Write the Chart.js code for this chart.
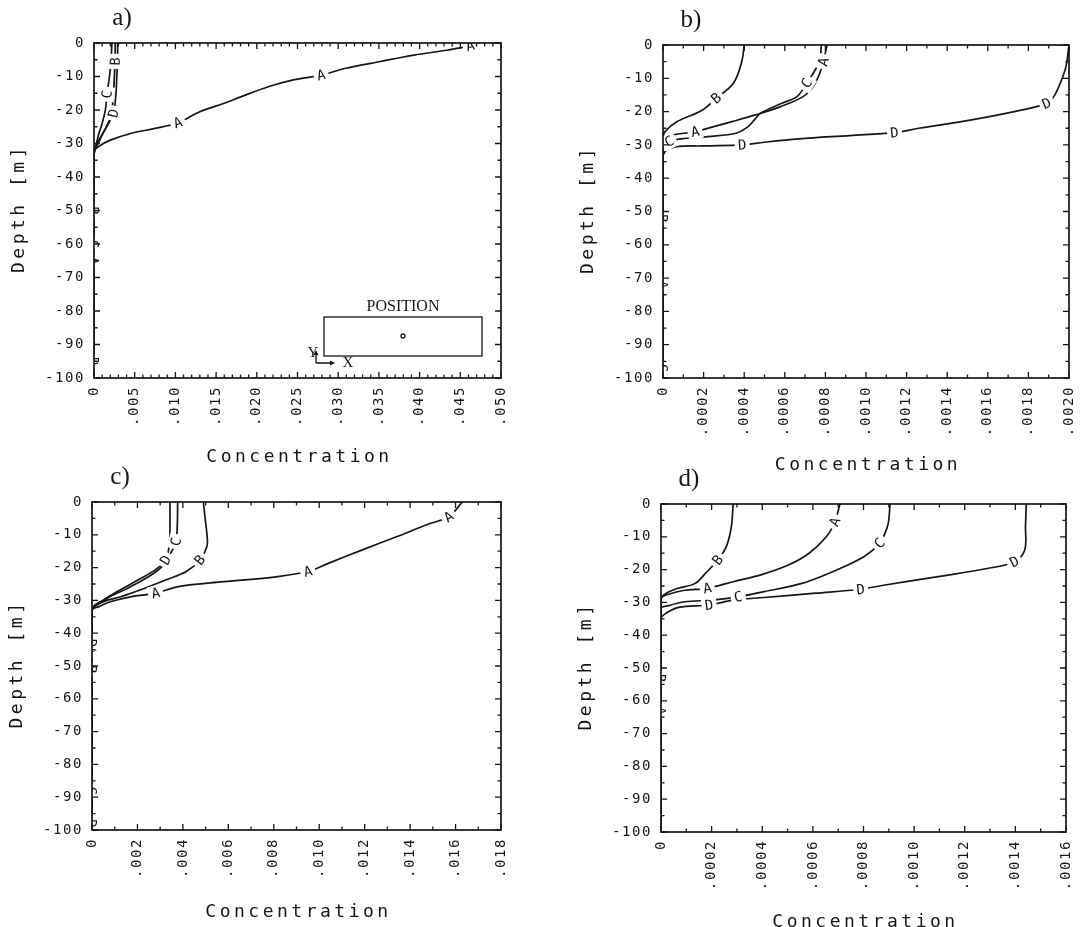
<!DOCTYPE html>
<html>
<head>
<meta charset="utf-8">
<script src="https://cdn.jsdelivr.net/npm/chart.js@4.4.1/dist/chart.umd.min.js"></script>
<style>
  html, body { margin: 0; padding: 0; background: #fff; }
  #sheet { position: relative; width: 1081px; height: 927px; overflow: hidden; }
  #sheet canvas { position: absolute; }
</style>
</head>
<body>
<div id="sheet">
  <canvas id="panelA" width="540" height="478" style="left:0;top:0"></canvas>
  <canvas id="panelB" width="541" height="478" style="left:540px;top:0"></canvas>
  <canvas id="panelC" width="540" height="462" style="left:0;top:465px"></canvas>
  <canvas id="panelD" width="541" height="462" style="left:540px;top:465px"></canvas>
</div>
<script>
// profiles A-D: concentration against depth (m), one set per panel

// panel a)
const aDepthA = [0, -0.8, -2.1, -3.6, -5.6, -7.6, -9.6, -11, -13, -16, -18, -20.5, -23.8, -25.5, -27, -29, -31, -32.5, -65, -100];
const aConcA  = [0.0468, 0.0462, 0.0435, 0.0393, 0.0350, 0.0308, 0.0279, 0.0245, 0.0215, 0.0181, 0.0160, 0.0130, 0.0103, 0.0075, 0.0045, 0.0020, 0.0005, 0, 0, 0];
const aLabA   = [1, 6, 12, 18];
const aDepthB = [0, -5.5, -10, -15, -20, -23, -26, -29, -31, -33, -50, -100];
const aConcB  = [0.0026, 0.0026, 0.0025, 0.0024, 0.0022, 0.0019, 0.0013, 0.0006, 0.0002, 0, 0, 0];
const aLabB   = [1, 10];
const aDepthC = [0, -5, -10, -15.3, -20, -24, -27, -30, -32, -33, -60, -100];
const aConcC  = [0.0022, 0.0021, 0.0019, 0.0016, 0.0014, 0.0010, 0.0006, 0.0003, 0.0001, 0, 0, 0];
const aLabC   = [3, 10];
const aDepthD = [0, -5, -10, -15, -21, -24, -27, -30, -32, -34, -95, -100];
const aConcD  = [0.0029, 0.0029, 0.0028, 0.0027, 0.0024, 0.0018, 0.0011, 0.0005, 0.0001, 0, 0, 0];
const aLabD   = [4, 10];

// panel b)
const bDepthA = [0, -5, -8.5, -12.5, -15.5, -18.5, -21, -23, -24.5, -26, -27, -28, -72, -100];
const bConcA  = [0.000808, 0.00079, 0.000772, 0.00074, 0.00069, 0.00058, 0.000455, 0.00034, 0.00025, 0.000158, 0.00005, 0, 0, 0];
const bLabA   = [1, 9, 12];
const bDepthB = [0, -5, -11.5, -16, -19.5, -23, -26, -28, -52, -100];
const bConcB  = [0.0004, 0.000388, 0.000347, 0.000262, 0.000195, 0.00007, 0.00001, 0, 0, 0];
const bLabB   = [3, 8];
const bDepthC = [0, -5, -11.5, -15.5, -17.5, -20.5, -22.5, -24.5, -26.5, -27.5, -28.2, -29, -31, -97, -100];
const bConcC  = [0.00078, 0.00077, 0.000708, 0.00066, 0.000585, 0.00048, 0.00045, 0.00042, 0.00036, 0.00022, 0.00009, 0.00003, 0, 0, 0];
const bLabC   = [2, 11, 13];
const bDepthD = [0, -6.5, -11, -15.5, -17.5, -19.5, -22.5, -25, -26.3, -27.2, -28.2, -29.2, -30, -30.3, -30.6, -32, -34, -100];
const bConcD  = [0.002, 0.001985, 0.00196, 0.001925, 0.00189, 0.00177, 0.00152, 0.00126, 0.00114, 0.00092, 0.00067, 0.0005, 0.00039, 0.0002, 0.00006, 0.00001, 0, 0];
const bLabD   = [4, 8, 12];

// panel c)
const cDepthA = [0, -4.5, -6.5, -10.6, -14.6, -18.7, -21.2, -22.8, -24.3, -25.8, -27.8, -28.9, -30.4, -31.9, -33, -45, -100];
const cConcA  = [0.0163, 0.0157, 0.0149, 0.0134, 0.0119, 0.0104, 0.0095, 0.0081, 0.0058, 0.0038, 0.0028, 0.0017, 0.0008, 0.0003, 0, 0, 0];
const cLabA   = [1, 6, 10, 15];
const cDepthB = [0, -5, -10, -13.5, -17.7, -21.2, -23.8, -26.3, -28.9, -30.4, -33, -51, -100];
const cConcB  = [0.0049, 0.00498, 0.00506, 0.00506, 0.00475, 0.00415, 0.00324, 0.00232, 0.00126, 0.0005, 0, 0, 0];
const cLabB   = [4, 11];
const cDepthC = [0, -8, -12.1, -15.6, -19.7, -22.8, -26.3, -29.4, -33, -88, -100];
const cConcC  = [0.00377, 0.00375, 0.00369, 0.00346, 0.00308, 0.00248, 0.00157, 0.00066, 0, 0, 0];
const cLabC   = [2, 9];
const cDepthD = [0, -8, -13.2, -17.7, -20.7, -23.8, -27.3, -29.9, -33, -43, -98, -100];
const cConcD  = [0.00343, 0.00343, 0.0034, 0.00324, 0.00278, 0.00202, 0.00111, 0.0005, 0, 0, 0, 0];
const cLabD   = [3, 9, 10];

// panel d)
const dDepthA = [0, -5.4, -10, -15, -18.6, -21.6, -23.7, -25.7, -26.3, -27.3, -29, -63, -100];
const dConcA  = [0.000707, 0.000687, 0.000653, 0.000585, 0.000503, 0.000394, 0.000285, 0.000183, 0.000094, 0.00004, 0, 0, 0];
const dLabA   = [1, 7, 11];
const dDepthB = [0, -6.9, -13, -17.1, -21.1, -24.2, -25.7, -27, -29, -53, -100];
const dConcB  = [0.000285, 0.000278, 0.000258, 0.000224, 0.000176, 0.000135, 0.000067, 0.000026, 0, 0, 0];
const dLabB   = [3, 9];
const dDepthC = [0, -5.8, -8.9, -12, -16, -20.1, -24.2, -26.7, -28.3, -29.3, -29.8, -31, -32, -100];
const dConcC  = [0.000905, 0.000898, 0.000885, 0.000864, 0.000803, 0.000694, 0.000557, 0.000408, 0.000305, 0.000203, 0.000094, 0.00003, 0, 0];
const dLabC   = [3, 8];
const dDepthD = [0, -6.9, -14, -17.6, -19.6, -22.2, -24.7, -26, -27.2, -28.5, -29.3, -30.8, -31.5, -33.3, -35, -100];
const dConcD  = [0.001443, 0.00144, 0.001437, 0.001396, 0.001294, 0.001089, 0.000885, 0.000789, 0.000612, 0.000408, 0.000285, 0.00019, 0.00007, 0.00002, 0, 0];
const dLabD   = [3, 7, 11];

// axis ranges and tick steps per panel
const depthMin = -100, depthMajor = 10, depthMinor = 5;
const aXMax = 0.05,   aXMajor = 0.005,  aXMinor = 0.001;
const bXMax = 0.002,  bXMajor = 0.0002, bXMinor = 0.0001;
const cXMax = 0.018,  cXMajor = 0.002,  cXMinor = 0.001;
const dXMax = 0.0016, dXMajor = 0.0002, dXMinor = 0.0001;

const INK = '#161616';
const MONO = '"DejaVu Sans Mono", monospace';
const SERIF = '"Liberation Serif", "DejaVu Serif", serif';
const YW = 60, XH = 70;

function isMajor(v, step) {
  const r = v / step;
  return Math.abs(r - Math.round(r)) < 1e-6;
}

function tickRange(min, max, step) {
  const n = Math.round((max - min) / step);
  const out = [];
  for (let i = 0; i <= n; i++) out.push({ value: +(min + i * step).toFixed(8) });
  return out;
}

function fmtConc(v, dec) {
  if (Math.abs(v) < 1e-12) return '0';
  return v.toFixed(dec).replace(/^0/, '');
}

function series(name, depth, conc, labelAt) {
  return {
    label: name,
    data: depth.map((d, i) => ({ x: conc[i], y: d })),
    labelAt: labelAt,
    borderColor: INK,
    borderWidth: 1.7,
    pointRadius: 0,
    tension: 0.35,
    fill: false
  };
}

// letters sitting in gaps along each curve
const curveLabels = {
  id: 'curveLabels',
  afterDatasetsDraw(chart) {
    const { ctx, chartArea: ca } = chart;
    ctx.save();
    ctx.beginPath();
    ctx.rect(ca.left, ca.top, ca.width, ca.height);
    ctx.clip();
    ctx.letterSpacing = '0px';
    ctx.font = '14px ' + MONO;
    ctx.textAlign = 'center';
    ctx.textBaseline = 'middle';
    chart.data.datasets.forEach((ds, di) => {
      const pts = chart.getDatasetMeta(di).data;
      ds.labelAt.forEach(i => {
        const p = pts[i];
        const a = pts[Math.max(i - 1, 0)];
        const b = pts[Math.min(i + 1, pts.length - 1)];
        let ang = Math.atan2(b.y - a.y, b.x - a.x);
        if (ang > Math.PI / 2) ang -= Math.PI;
        if (ang < -Math.PI / 2) ang += Math.PI;
        ctx.save();
        ctx.translate(p.x, p.y);
        ctx.rotate(ang);
        ctx.fillStyle = '#fff';
        ctx.fillRect(-7.5, -7.5, 15, 15);
        ctx.fillStyle = INK;
        ctx.fillText(ds.label, 0, 1);
        ctx.restore();
      });
    });
    ctx.restore();
  }
};

// frame with inward ticks on all sides, panel letter, axis titles, inset
const panelFrame = {
  id: 'panelFrame',
  beforeDraw(chart) {
    chart.ctx.letterSpacing = '1.6px';
  },
  afterDraw(chart, args, opts) {
    const { ctx, chartArea: ca, scales } = chart;
    const x = scales.x, y = scales.y;
    ctx.save();
    ctx.strokeStyle = INK;
    ctx.fillStyle = INK;
    ctx.lineWidth = 1.7;
    ctx.strokeRect(ca.left, ca.top, ca.width, ca.height);

    ctx.lineWidth = 1.3;
    ctx.beginPath();
    x.ticks.forEach(t => {
      const px = x.getPixelForValue(t.value);
      const len = isMajor(t.value, opts.xMajor) ? 6 : 3.5;
      ctx.moveTo(px, ca.bottom); ctx.lineTo(px, ca.bottom - len);
      ctx.moveTo(px, ca.top); ctx.lineTo(px, ca.top + len);
    });
    y.ticks.forEach(t => {
      const py = y.getPixelForValue(t.value);
      const len = isMajor(t.value, depthMajor) ? 6 : 3.5;
      ctx.moveTo(ca.left, py); ctx.lineTo(ca.left + len, py);
      ctx.moveTo(ca.right, py); ctx.lineTo(ca.right - len, py);
    });
    ctx.stroke();

    // panel letter
    ctx.letterSpacing = '0px';
    ctx.font = '25px ' + SERIF;
    ctx.textAlign = 'center';
    ctx.textBaseline = 'middle';
    ctx.fillText(opts.letter, ca.left + 28, ca.top - 25);

    // axis titles
    ctx.font = '18px ' + MONO;
    ctx.letterSpacing = '3.5px';
    ctx.fillText('Concentration', (ca.left + ca.right) / 2 + 2, ca.bottom + opts.titleGap);
    ctx.save();
    ctx.translate(ca.left - 75, (ca.top + ca.bottom) / 2);
    ctx.rotate(-Math.PI / 2);
    ctx.fillText('Depth [m]', 2, 0);
    ctx.restore();
    ctx.letterSpacing = '0px';

    if (opts.inset) {
      const bx = ca.left + 230, by = ca.top + 274;
      ctx.lineWidth = 1.3;
      ctx.strokeRect(bx, by, 158, 39);
      ctx.font = '16px ' + SERIF;
      ctx.fillText('POSITION', bx + 79, by - 10);
      ctx.beginPath();
      ctx.arc(bx + 79, by + 19, 2, 0, Math.PI * 2);
      ctx.stroke();
      // little axis cross
      const ox = bx - 8, oy = by + 46;
      ctx.beginPath();
      ctx.moveTo(ox, oy); ctx.lineTo(ox, oy - 11);
      ctx.moveTo(ox, oy); ctx.lineTo(ox + 17, oy);
      ctx.stroke();
      ctx.beginPath();
      ctx.moveTo(ox, oy - 13); ctx.lineTo(ox - 2.5, oy - 8); ctx.lineTo(ox + 2.5, oy - 8); ctx.closePath();
      ctx.moveTo(ox + 19, oy); ctx.lineTo(ox + 14, oy - 2.5); ctx.lineTo(ox + 14, oy + 2.5); ctx.closePath();
      ctx.fill();
      ctx.font = '15px ' + SERIF;
      ctx.fillText('Y', ox - 3, oy - 10);
      ctx.fillText('X', ox + 32, oy);
    }
    ctx.restore();
  }
};

function makePanel(id, box, datasets, xMax, xMajor, xMinor, dec, letter, titleGap, inset) {
  const padding = {
    left: box.L - box.ox - YW,
    top: box.T - box.oy,
    right: box.ox + box.cw - box.R,
    bottom: box.oy + box.ch - box.B - XH
  };
  const tickFont = { family: MONO, size: 14 };
  return new Chart(document.getElementById(id), {
    type: 'line',
    data: { datasets: datasets },
    options: {
      responsive: false,
      animation: false,
      devicePixelRatio: 1,
      layout: { padding: padding },
      plugins: {
        legend: { display: false },
        tooltip: { enabled: false },
        panelFrame: { letter: letter, xMajor: xMajor, titleGap: titleGap, inset: inset }
      },
      scales: {
        x: {
          type: 'linear',
          min: 0,
          max: xMax,
          afterBuildTicks: s => { s.ticks = tickRange(0, xMax, xMinor); },
          afterFit: s => { s.height = XH; s.paddingLeft = 0; s.paddingRight = 0; },
          grid: { display: false, drawTicks: false },
          border: { display: false },
          ticks: {
            autoSkip: false,
            minRotation: 90,
            maxRotation: 90,
            padding: 8,
            color: INK,
            font: tickFont,
            callback: v => isMajor(v, xMajor) ? fmtConc(v, dec) : ''
          }
        },
        y: {
          type: 'linear',
          min: depthMin,
          max: 0,
          afterBuildTicks: s => { s.ticks = tickRange(depthMin, 0, depthMinor); },
          afterFit: s => { s.width = YW; s.paddingTop = 0; s.paddingBottom = 0; },
          grid: { display: false, drawTicks: false },
          border: { display: false },
          ticks: {
            autoSkip: false,
            padding: 9,
            color: INK,
            font: tickFont,
            callback: v => isMajor(v, depthMajor) ? String(Math.round(v)) : ''
          }
        }
      }
    },
    plugins: [curveLabels, panelFrame]
  });
}

document.addEventListener('DOMContentLoaded', function() {
  makePanel('panelA', { ox: 0, oy: 0, cw: 540, ch: 478, L: 94, T: 43, R: 501, B: 378 }, [
    series('A', aDepthA, aConcA, aLabA),
    series('B', aDepthB, aConcB, aLabB),
    series('C', aDepthC, aConcC, aLabC),
    series('D', aDepthD, aConcD, aLabD)
  ], aXMax, aXMajor, aXMinor, 3, 'a)', 79, true);

  makePanel('panelB', { ox: 540, oy: 0, cw: 541, ch: 478, L: 663, T: 45, R: 1069, B: 378 }, [
    series('A', bDepthA, bConcA, bLabA),
    series('B', bDepthB, bConcB, bLabB),
    series('C', bDepthC, bConcC, bLabC),
    series('D', bDepthD, bConcD, bLabD)
  ], bXMax, bXMajor, bXMinor, 4, 'b)', 87, false);

  makePanel('panelC', { ox: 0, oy: 465, cw: 540, ch: 462, L: 92, T: 502, R: 501, B: 830 }, [
    series('A', cDepthA, cConcA, cLabA),
    series('B', cDepthB, cConcB, cLabB),
    series('C', cDepthC, cConcC, cLabC),
    series('D', cDepthD, cConcD, cLabD)
  ], cXMax, cXMajor, cXMinor, 3, 'c)', 82, false);

  makePanel('panelD', { ox: 540, oy: 465, cw: 541, ch: 462, L: 661, T: 504, R: 1066, B: 832 }, [
    series('A', dDepthA, dConcA, dLabA),
    series('B', dDepthB, dConcB, dLabB),
    series('C', dDepthC, dConcC, dLabC),
    series('D', dDepthD, dConcD, dLabD)
  ], dXMax, dXMajor, dXMinor, 4, 'd)', 90, false);
});
</script>
</body>
</html>
